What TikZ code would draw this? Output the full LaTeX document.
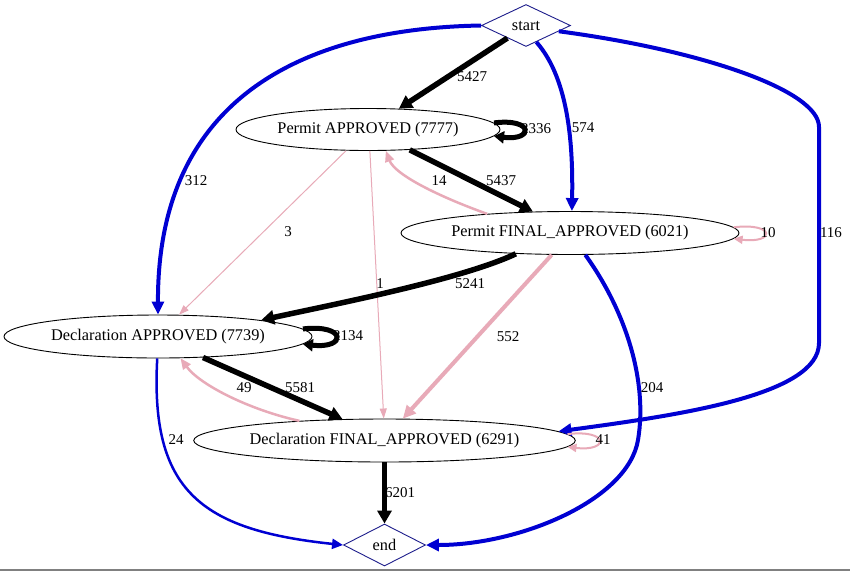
\documentclass[tikz,border=0pt]{standalone}
\usepackage{fontspec}
\setmainfont{Liberation Serif}
\usetikzlibrary{shapes.geometric,arrows.meta}
\definecolor{eblue}{RGB}{0,0,210}
\definecolor{dnavy}{RGB}{30,30,140}
\definecolor{epink}{RGB}{232,170,184}
\newcommand\nodefont{\fontsize{16.3}{19}\selectfont}
\newcommand\lblfont{\fontsize{15}{18}\selectfont}
\tikzset{
  dia/.style={draw=dnavy, line width=0.9pt, shape=diamond, aspect=2, inner sep=0pt, minimum width=89pt, minimum height=42pt, font=\nodefont},
  ev/.style={draw=black, line width=0.9pt, shape=ellipse, inner sep=0pt, font=\nodefont},
  lbl/.style={font=\lblfont, inner sep=0pt},
  blk/.style={draw=black, line width=5.5pt, -{Triangle[length=13pt,width=14pt]}},
  blkloop/.style={draw=black, line width=5pt, -{Triangle[length=10pt,width=12pt]}},
  blu/.style={draw=eblue, line width=4pt, -{Triangle[length=13pt,width=12pt]}},
  blumed/.style={draw=eblue, line width=2.5pt, -{Triangle[length=11pt,width=10pt]}},
  pnk/.style={draw=epink, line width=2.5pt, -{Triangle[length=11pt,width=9pt]}},
  pnkthick/.style={draw=epink, line width=4pt, -{Triangle[length=13pt,width=12pt]}},
  pnkthin/.style={draw=epink, line width=1pt, -{Triangle[length=10pt,width=7pt]}},
  pnkloop/.style={draw=epink, line width=2pt, -{Triangle[length=9pt,width=8pt]}},
}
\begin{document}
\begin{tikzpicture}[x=1pt,y=-1pt]
\useasboundingbox (0,0) rectangle (850,571);
\fill[white] (0,0) rectangle (850,571);
\draw[gray, line width=2pt] (0,570) -- (850,570);

% nodes
\node[dia] (start) at (526,25.5) {start};
\node[ev, minimum width=264pt, minimum height=42pt] (PA) at (368,129.5) {Permit APPROVED (7777)};
\node[ev, minimum width=338pt, minimum height=43pt] (PF) at (570,233) {Permit FINAL\_APPROVED (6021)};
\node[ev, minimum width=308pt, minimum height=43pt] (DA) at (158,336.5) {Declaration APPROVED (7739)};
\node[ev, minimum width=381pt, minimum height=43pt] (DF) at (384.5,440.5) {Declaration FINAL\_APPROVED (6291)};
\node[dia, minimum width=82pt] (endn) at (384.5,545) {end};

% edges
\draw[blk] (start.214.8) -- (PA.34);
\draw[blkloop] (PA.3.5) .. controls +(40,-5) and +(40,5) .. (PA.-3.5);
\draw[blu] (start.302) .. controls (570,80) and (573,150) .. (PF.85);
\draw[blu] (start.west) .. controls (330,28) and (157,80) .. (DA.north);
\draw[blu] (start.-10) .. controls (700,50) and (819,90) .. (819,127) -- (819,343) .. controls (819,395) and (680,415) .. (DF.3.6);
\draw[blk] (PA.-26.6) -- (PF.150.4);
\draw[pnk] (PF.167.3) .. controls (440,197) and (395,175) .. (PA.-50.7);
\draw[pnkthin] (PA.224.6) -- (DA.46.8);
\draw[pnkthin] (PA.-85) -- (DF.92);
\draw[pnkloop] (PF.2.9) .. controls +(42,-5) and +(42,5) .. (PF.-2.9);
\draw[blk] (PF.201.5) .. controls (460,280) and (330,305) .. (DA.9.3);
\draw[pnkthick] (PF.230) -- (DF.50.7);
\draw[blu] (PF.-55) .. controls (625,310) and (648,380) .. (638,440) .. controls (628,500) and (520,545) .. (endn.east);
\draw[blkloop] (DA.3.4) .. controls +(44,-5) and +(44,5) .. (DA.-3.4);
\draw[blk] (DA.-25) -- (DF.153.7);
\draw[pnk] (DF.167.2) .. controls (250,410) and (200,385) .. (DA.-44);
\draw[blumed] (DA.-92.5) .. controls (150,490) and (200,530) .. (endn.west);
\draw[pnkloop] (DF.2.2) .. controls +(42,-5) and +(42,5) .. (DF.-2.2);
\draw[blk] (DF.south) -- (endn.north);

% labels
\node[lbl] (l1) at (472,77) {5427};
\node[lbl] (l2) at (536,128.5) {2336};
\node[lbl] (l3) at (583,128) {574};
\node[lbl] (l4) at (196,181) {312};
\node[lbl] (l5) at (831,233) {116};
\node[lbl] (l6) at (439,181) {14};
\node[lbl] (l7) at (501,181) {5437};
\node[lbl] (l8) at (288,232) {3};
\node[lbl] (l9) at (380,284) {1};
\node[lbl] (l10) at (768,233) {10};
\node[lbl] (l11) at (470,284) {5241};
\node[lbl] (l12) at (508,337) {552};
\node[lbl] (l13) at (652,388) {204};
\node[lbl] (l14) at (348,336) {2134};
\node[lbl] (l15) at (300,388) {5581};
\node[lbl] (l16) at (244,388) {49};
\node[lbl] (l17) at (176,440) {24};
\node[lbl] (l18) at (603,440) {41};
\node[lbl] (l19) at (400,493) {6201};
\end{tikzpicture}
\end{document}
